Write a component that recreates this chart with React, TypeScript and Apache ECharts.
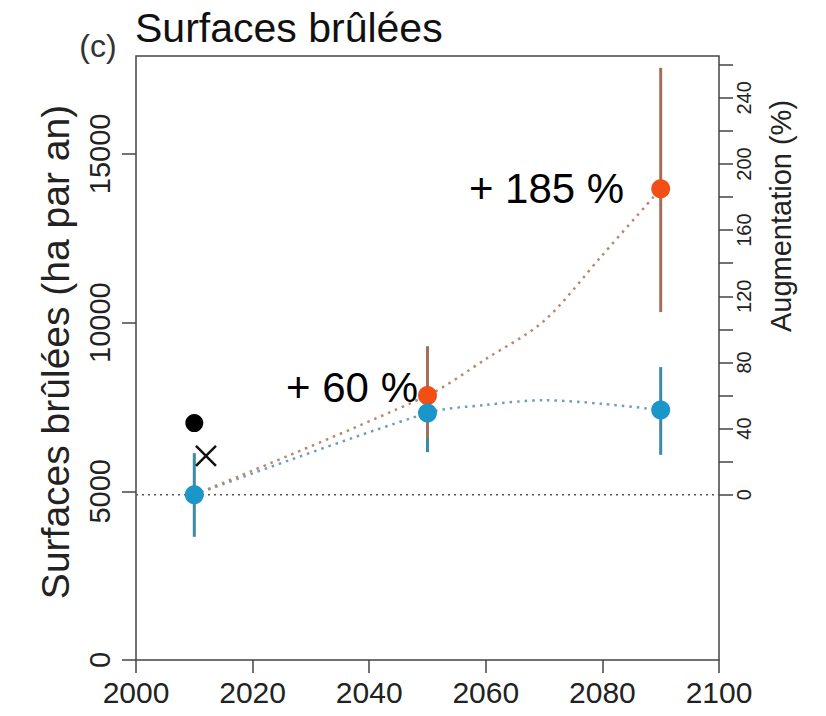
import React, { useEffect, useRef } from "react";
import * as echarts from "echarts";

// Burned area per year: observed and projected (two scenarios)
const scenarioYears = [2010, 2050, 2090];
const blueMean = [4900, 7320, 7410];
const blueLow = [3650, 6160, 6080];
const blueHigh = [6130, 8300, 8680];

const orangeYears = [2050, 2090];
const orangeMean = [7840, 13965];
const orangeLow = [6600, 10310];
const orangeHigh = [9300, 17550];

// Decadal trajectories joining the scenario means
const trendYears = [2010, 2050, 2060, 2070, 2080, 2090];
const orangeTrend = [4900, 7840, 8920, 10050, 12000, 13965];
const blueTrend = [4900, 7320, 7560, 7700, 7590, 7410];

// Reference observations around 2010
const observedDot = [2010, 7020];
const observedCross = [2012, 6050];

const leftTicks = [0, 5000, 10000, 15000];
const pctTicks = [0, 20, 40, 60, 80, 100, 120, 140, 160, 180, 200, 220, 240, 260];
const pctLabels = [0, 40, 80, 120, 160, 200, 240];
const yearTicks = [2000, 2020, 2040, 2060, 2080, 2100];

const baseline = blueMean[0];
const yMax = 17900;

const FONT = "Liberation Sans, Arial, sans-serif";
const ORANGE = "#f24e16";
const BLUE = "#1b96c8";

const pctText = (v: number) => `+ ${Math.round((v / baseline - 1) * 100)} %`;
const plain = (v: number) => String(Math.round(v));

export default function App() {
  const ref = useRef<HTMLDivElement>(null);

  useEffect(() => {
    if (!ref.current) return;
    const chart = echarts.init(ref.current, null, { renderer: "svg" });

    const errRender = (color: string) => (params: any, api: any) => {
      const p1 = api.coord([api.value(0), api.value(1)]);
      const p2 = api.coord([api.value(0), api.value(2)]);
      return {
        type: "line",
        shape: { x1: p1[0], y1: p1[1], x2: p2[0], y2: p2[1] },
        style: { stroke: color, lineWidth: 3 },
      };
    };

    const labelPlacement = [
      { distance: 0, offset: [0, -8] },
      { distance: 27, offset: [0, 0] },
    ];

    chart.setOption({
      animation: false,
      grid: {
        left: 136,
        right: 107,
        top: 56,
        bottom: 56,
        show: true,
        borderColor: "#444",
        borderWidth: 1.5,
        backgroundColor: "transparent",
      },
      xAxis: {
        type: "value",
        min: 2000,
        max: 2100,
        interval: 20,
        axisLine: { show: false },
        splitLine: { show: false },
        axisTick: { show: true, length: 13, lineStyle: { color: "#444", width: 1.5 }, customValues: yearTicks },
        axisLabel: {
          customValues: yearTicks,
          formatter: plain,
          fontFamily: FONT,
          fontSize: 30,
          color: "#222",
          margin: 17,
        },
      },
      yAxis: [
        {
          type: "value",
          min: 0,
          max: yMax,
          axisLine: { show: false },
          splitLine: { show: false },
          axisTick: { show: true, length: 14, lineStyle: { color: "#444", width: 1.5 }, customValues: leftTicks },
          axisLabel: {
            customValues: leftTicks,
            formatter: plain,
            rotate: 90,
            fontFamily: FONT,
            fontSize: 29,
            color: "#222",
            margin: 22,
          },
        },
        {
          type: "value",
          position: "right",
          min: -100,
          max: (yMax / baseline - 1) * 100,
          axisLine: { show: false },
          splitLine: { show: false },
          axisTick: { show: true, length: 14, lineStyle: { color: "#444", width: 1.5 }, customValues: pctTicks },
          axisLabel: {
            customValues: pctLabels,
            formatter: plain,
            rotate: 90,
            fontFamily: FONT,
            fontSize: 20,
            color: "#222",
            margin: 15,
          },
        },
      ],
      graphic: [
        {
          type: "text",
          x: 135,
          y: 28,
          style: { text: "Surfaces brûlées", font: `41px ${FONT}`, fill: "#111", textAlign: "left", textVerticalAlign: "middle" },
        },
        {
          type: "text",
          x: 98,
          y: 46,
          style: { text: "(c)", font: `32px ${FONT}`, fill: "#333", textAlign: "center", textVerticalAlign: "middle" },
        },
        {
          type: "text",
          x: 55,
          y: 352,
          rotation: Math.PI / 2,
          style: { text: "Surfaces brûlées (ha par an)", font: `39px ${FONT}`, fill: "#222", textAlign: "center", textVerticalAlign: "middle" },
        },
        {
          type: "text",
          x: 781,
          y: 216,
          rotation: Math.PI / 2,
          style: { text: "Augmentation (%)", font: `29px ${FONT}`, fill: "#222", textAlign: "center", textVerticalAlign: "middle" },
        },
      ],
      series: [
        {
          type: "line",
          data: [[2000, baseline], [2100, baseline]],
          symbol: "none",
          lineStyle: { color: "#555", width: 1.5, type: [2, 4] },
          silent: true,
          z: 1,
        },
        {
          type: "line",
          data: trendYears.map((y, i) => [y, blueTrend[i]]),
          symbol: "none",
          smooth: 0.3,
          lineStyle: { color: "#6f9fb6", width: 2.5, type: [2.5, 5] },
          z: 2,
        },
        {
          type: "line",
          data: trendYears.map((y, i) => [y, orangeTrend[i]]),
          symbol: "none",
          smooth: 0.3,
          lineStyle: { color: "#b98670", width: 2.5, type: [2.5, 5] },
          z: 2,
        },
        {
          type: "custom",
          renderItem: errRender("#3e8aa4"),
          data: scenarioYears.map((y, i) => [y, blueLow[i], blueHigh[i]]),
          encode: { x: 0, y: [1, 2] },
          z: 3,
        },
        {
          type: "custom",
          renderItem: errRender("#a36f5a"),
          data: orangeYears.map((y, i) => [y, orangeLow[i], orangeHigh[i]]),
          encode: { x: 0, y: [1, 2] },
          z: 4,
        },
        {
          type: "scatter",
          symbol: "circle",
          symbolSize: 19,
          itemStyle: { color: ORANGE, opacity: 1 },
          data: orangeYears.map((y, i) => ({
            value: [y, orangeMean[i]],
            label: {
              show: true,
              position: "left",
              distance: labelPlacement[i].distance,
              offset: labelPlacement[i].offset,
              formatter: () => pctText(orangeMean[i]),
              fontFamily: FONT,
              fontSize: 42,
              color: "#000",
            },
          })),
          z: 5,
        },
        {
          type: "scatter",
          symbol: "circle",
          symbolSize: 19,
          itemStyle: { color: BLUE, opacity: 1 },
          data: scenarioYears.map((y, i) => [y, blueMean[i]]),
          z: 6,
        },
        {
          type: "scatter",
          symbol: "circle",
          symbolSize: 18,
          itemStyle: { color: "#000", opacity: 1 },
          data: [observedDot],
          z: 6,
        },
        {
          type: "scatter",
          symbol: "path://M0,0L10,10M10,0L0,10",
          symbolSize: 20,
          itemStyle: { color: "none", borderColor: "#111", borderWidth: 2.5, opacity: 1 },
          data: [observedCross],
          z: 6,
        },
      ],
    });

    return () => chart.dispose();
  }, []);

  return (
    <div
      ref={ref}
      style={{ position: "absolute", left: 0, top: 0, width: 826, height: 716, background: "#fff" }}
    />
  );
}
